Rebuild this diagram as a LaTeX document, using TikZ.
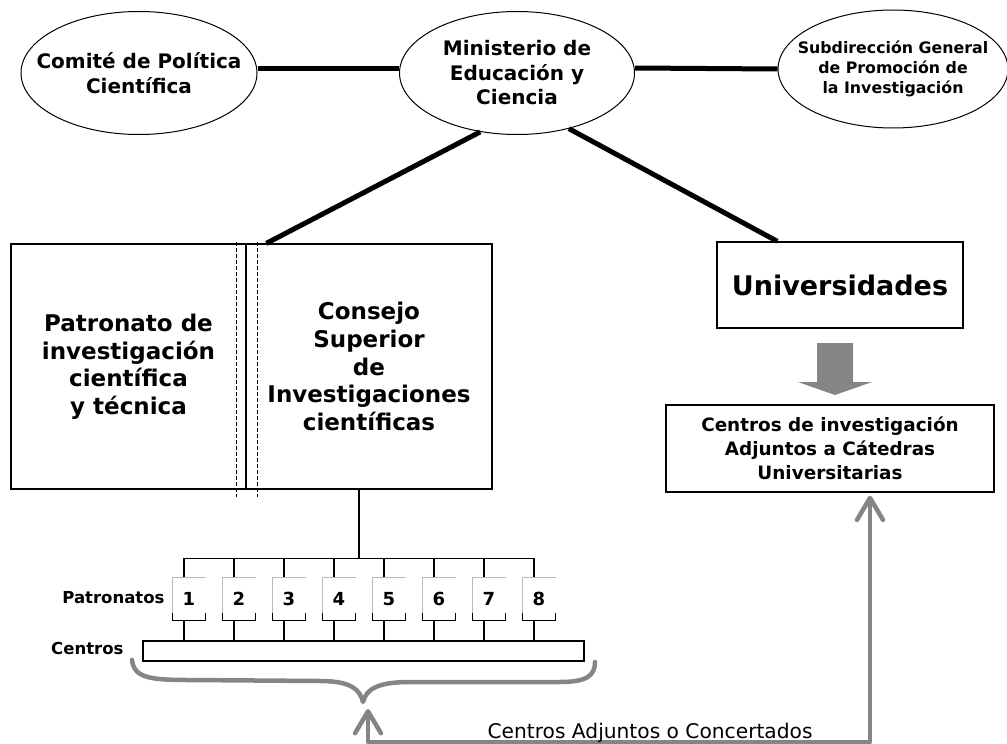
\documentclass[tikz,border=0pt]{standalone}
\usepackage{fontspec}
\setmainfont{DejaVu Sans}
\usepackage{tikz}
\usetikzlibrary{shapes.geometric, arrows.meta, calc}
\definecolor{flecha}{gray}{0.52}
\tikzstyle{elipse} = [ellipse, draw, line width=1pt, inner sep=0pt]
\tikzstyle{txtelipse} = [align=center, font=\fontsize{20}{24.5}\selectfont\bfseries]
\tikzstyle{caja} = [rectangle, draw, line width=1.3pt, inner sep=0pt, align=center]
\tikzstyle{enlace} = [line width=5pt]
\tikzstyle{vuelta} = [draw=flecha, line width=4.5pt, line cap=round, line join=round]
\tikzstyle{patbox} = [rectangle, inner sep=0pt, minimum width=32pt, minimum height=42pt, font=\fontsize{18}{20}\selectfont\bfseries]
\tikzstyle{lbl} = [font=\fontsize{16.5}{20}\selectfont\bfseries]

\begin{document}
\begin{tikzpicture}[x=1pt,y=-1pt]
	\useasboundingbox (0,0) rectangle (1007,744);

	% Ellipses:
	\node[elipse, minimum width=236pt, minimum height=123pt] (comite) at (139,73) {};
	\node[txtelipse] (tcomite) at (comite) {Comité de Política\\Científica};
	\node[elipse, minimum width=235pt, minimum height=123pt] (ministerio) at (517,73) {};
	\node[txtelipse] (tministerio) at (ministerio) {Ministerio de\\Educación y\\Ciencia};
	\node[elipse, minimum width=230pt, minimum height=118pt] (subdir) at (893,69) {};
	\node[txtelipse, font=\fontsize{15.8}{20}\selectfont\bfseries] (tsubdir) at (subdir) {Subdirección General\\de Promoción de\\la Investigación};

	% Boxes:
	\node[caja, minimum width=235pt, minimum height=245pt, font=\fontsize{23}{27.5}\selectfont\bfseries] (patronato) at (128.5,366.5) {Patronato de\\investigación\\científica\\y técnica};
	\node[caja, minimum width=246pt, minimum height=245pt, font=\fontsize{23}{27.75}\selectfont\bfseries] (consejo) at (369,366.5) {Consejo\\Superior\\de\\Investigaciones\\científicas};
	\node[caja, minimum width=246pt, minimum height=86pt, font=\fontsize{27}{30}\selectfont\bfseries] (univ) at (840,285) {Universidades};
	\node[caja, minimum width=328pt, minimum height=87pt, font=\fontsize{18.4}{24}\selectfont\bfseries] (cinv) at (830,448.5) {Centros de investigación\\Adjuntos a Cátedras\\Universitarias};

	\draw[dashed, dash pattern=on 4pt off 2pt, line width=1pt] (236,242) -- (236,497);
	\draw[dashed, dash pattern=on 4pt off 2pt, line width=1pt] (257,242) -- (257,497);

	% Heavy links:
	\draw[enlace] ([yshift=5pt]comite.east) -- ([yshift=5pt]ministerio.west);
	\draw[enlace] ([yshift=5pt]ministerio.east) -- (subdir.west);
	\draw[enlace] (ministerio.238) -- ([xshift=21pt]consejo.north west);
	\draw[enlace] (ministerio.313) -- ([xshift=61pt]univ.north west);

	% Block arrow:
	\fill[flecha] (817,343) -- (853,343) -- (853,382) -- (872,382) -- (835,395) -- (798,382) -- (817,382) -- cycle;

	% Patronatos and centros:
	\node[caja, minimum width=441pt, minimum height=20pt] (barra) at (363.5,651) {};
	\node[lbl, anchor=base east] (lblpat) at (168,603) {Patronatos};
	\node[lbl, anchor=base east] (lblcen) at (127,654) {Centros};
	\begin{scope}[line width=1.3pt]
		\foreach \i in {1,...,8}{
			\node[patbox] (pat\i) at (139+50*\i,599) {\i};
			\draw[gray!55, line width=0.8pt] (pat\i.south west) |- (pat\i.north east);
			\draw ([yshift=8pt]pat\i.south west) -- (pat\i.south west) -- (pat\i.south east) -- ([yshift=8pt]pat\i.south east);
			\draw ([xshift=-5pt]pat\i.north) -- ++(0,-19);
			\draw ([xshift=-5pt]pat\i.south) -- ([xshift=-5pt]pat\i.south |- barra.north);
		}
		\coordinate (bus) at ([xshift=-5pt,yshift=19pt]pat1.north);
		\draw (bus) -- ([xshift=-5pt,yshift=19pt]pat8.north);
		\draw ([xshift=-10pt]consejo.south) -- ([xshift=-10pt]consejo.south |- bus);
	\end{scope}

	% Brace and return arrow:
	\coordinate (llave) at (363,702);
	\draw[vuelta] (132,660) .. controls (134,678) and (150,680) .. (190,680) -- (320,681) .. controls (352,681) and (360,690) .. (llave) .. controls (366,690) and (376,682) .. (410,682) -- (560,682) .. controls (586,682) and (595,676) .. (595,662);
	\coordinate (retizq) at (368,742);
	\coordinate (retder) at (870,742);
	\draw[vuelta, {Straight Barb[length=22pt,width=26pt,round]}-{Straight Barb[length=22pt,width=26pt,round]}] ($(llave)+(5,7)$) -- (retizq) -- (retder) -- ([xshift=40pt,yshift=-3pt]cinv.south);
	\node[anchor=base west, font=\fontsize{20.2}{22}\selectfont] (cac) at (484,738) {Centros Adjuntos o Concertados};

\end{tikzpicture}
\end{document}
